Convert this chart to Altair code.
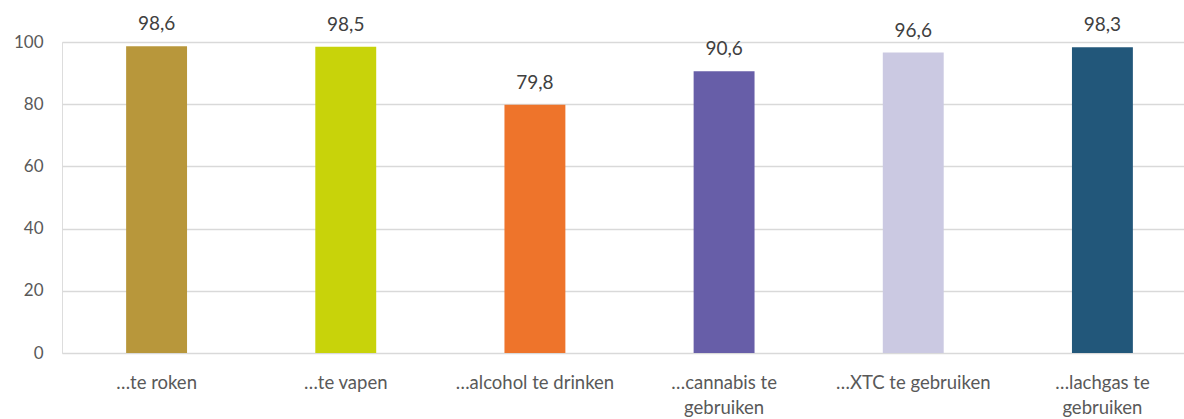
import altair as alt
import pandas as pd

categories = ["…te roken", "…te vapen", "…alcohol te drinken", "…cannabis te|gebruiken", "…XTC te gebruiken", "…lachgas te|gebruiken"]
values = [98.6, 98.5, 79.8, 90.6, 96.6, 98.3]
colors = ["#B8973B", "#C8D30A", "#EE742B", "#675EA8", "#CBC9E2", "#22577A"]
y_ticks = [0, 20, 40, 60, 80, 100]

df = pd.DataFrame({
    "cat": categories,
    "val": values,
    "color": colors,
    "label": [f"{v:.1f}".replace(".", ",") for v in values],
})

FONT = "Lato"
x = alt.X("cat:N", sort=None, title=None,
          scale=alt.Scale(range=[0, 1135], paddingInner=0.678, paddingOuter=0.339),
          axis=alt.Axis(labelAngle=0, labelExpr="split(datum.label, '|')",
                        labelFontSize=18.5, labelColor="#595959", labelFont=FONT,
                        labelPadding=20, labelLineHeight=25, ticks=False,
                        domain=False, grid=False, labelLimit=300))
y = alt.Y("val:Q", title=None,
          scale=alt.Scale(domain=[0, 100], nice=False),
          axis=alt.Axis(values=y_ticks, labelFontSize=17, labelColor="#595959", labelFont=FONT,
                        labelPadding=19, ticks=False, domain=False,
                        gridColor="#d9d9d9", gridWidth=1.3))

base = alt.Chart(df)
bars = base.mark_bar().encode(x=x, y=y, color=alt.Color("color:N", scale=None))
text = base.mark_text(baseline="bottom", dy=-12, fontSize=19, color="#404040", font=FONT).encode(
    x=alt.X("cat:N", sort=None), y="val:Q", text="label:N")

chart = (bars + text).properties(
    width=1122, height=311,
    autosize=alt.AutoSizeParams(type="none"),
    padding={"left": 62, "top": 42, "right": 0, "bottom": 66},
).configure_view(stroke=None).configure(background="white")

chart.save("out.html", embed_options={"renderer": "svg", "actions": False})
